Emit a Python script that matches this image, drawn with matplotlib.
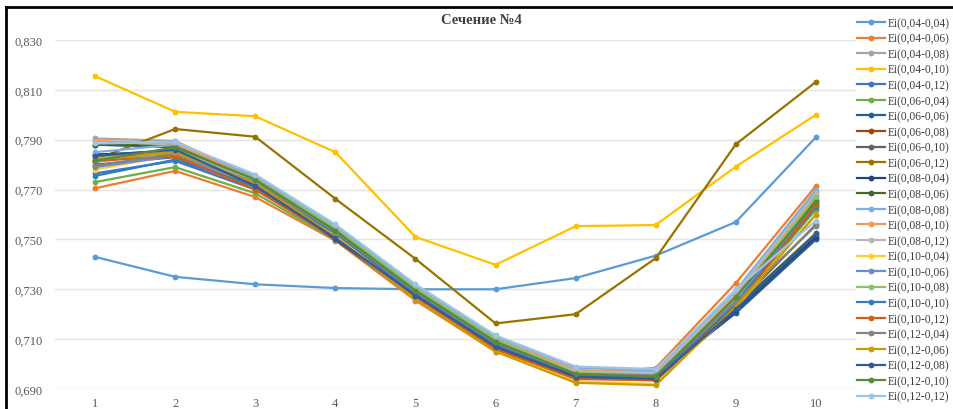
import matplotlib
matplotlib.use("Agg")
import matplotlib.pyplot as plt
from matplotlib.lines import Line2D
from matplotlib.ticker import FuncFormatter

plt.rcParams['font.family'] = ['Liberation Serif', 'DejaVu Serif']

# Section positions along the profile
points = [1, 2, 3, 4, 5, 6, 7, 8, 9, 10]

labels = [
    "Ei(0,04-0,04)", "Ei(0,04-0,06)", "Ei(0,04-0,08)", "Ei(0,04-0,10)", "Ei(0,04-0,12)",
    "Ei(0,06-0,04)", "Ei(0,06-0,06)", "Ei(0,06-0,08)", "Ei(0,06-0,10)", "Ei(0,06-0,12)",
    "Ei(0,08-0,04)", "Ei(0,08-0,06)", "Ei(0,08-0,08)", "Ei(0,08-0,10)", "Ei(0,08-0,12)",
    "Ei(0,10-0,04)", "Ei(0,10-0,06)", "Ei(0,10-0,08)", "Ei(0,10-0,10)", "Ei(0,10-0,12)",
    "Ei(0,12-0,04)", "Ei(0,12-0,06)", "Ei(0,12-0,08)", "Ei(0,12-0,10)", "Ei(0,12-0,12)",
]

colors = [
    "#5B9BD5", "#ED7D31", "#A5A5A5", "#FFC000", "#4472C4",
    "#70AD47", "#255E91", "#9E480E", "#636363", "#997300",
    "#264478", "#43682B", "#7CAFDD", "#F1975A", "#B7B7B7",
    "#FFCD33", "#698ED0", "#8CC168", "#327DC2", "#D26012",
    "#848484", "#CC9A00", "#335AA1", "#5A8A39", "#9DC3E6",
]

e_04_04 = [0.7430, 0.7350, 0.7320, 0.7305, 0.7300, 0.7300, 0.7345, 0.7435, 0.7570, 0.7910]
e_04_06 = [0.7705, 0.7775, 0.7670, 0.7495, 0.7255, 0.7050, 0.6955, 0.6985, 0.7325, 0.7715]
e_04_08 = [0.7905, 0.7895, 0.7745, 0.7540, 0.7300, 0.7100, 0.6975, 0.6970, 0.7280, 0.7690]
e_04_10 = [0.8155, 0.8012, 0.7994, 0.7850, 0.7510, 0.7398, 0.7553, 0.7558, 0.7792, 0.8000]
e_04_12 = [0.7765, 0.7815, 0.7700, 0.7510, 0.7270, 0.7070, 0.6950, 0.6945, 0.7250, 0.7640]
e_06_04 = [0.7730, 0.7790, 0.7685, 0.7500, 0.7265, 0.7060, 0.6945, 0.6940, 0.7240, 0.7620]
e_06_06 = [0.7880, 0.7870, 0.7730, 0.7530, 0.7295, 0.7090, 0.6960, 0.6950, 0.7205, 0.7500]
e_06_08 = [0.7840, 0.7845, 0.7715, 0.7520, 0.7285, 0.7085, 0.6960, 0.6955, 0.7260, 0.7660]
e_06_10 = [0.7800, 0.7830, 0.7710, 0.7515, 0.7280, 0.7075, 0.6955, 0.6950, 0.7235, 0.7560]
e_06_12 = [0.7820, 0.7943, 0.7912, 0.7663, 0.7422, 0.7163, 0.7200, 0.7425, 0.7882, 0.8132]
e_08_04 = [0.7840, 0.7855, 0.7720, 0.7500, 0.7270, 0.7065, 0.6945, 0.6935, 0.7215, 0.7510]
e_08_06 = [0.7880, 0.7875, 0.7740, 0.7540, 0.7300, 0.7095, 0.6950, 0.6945, 0.7230, 0.7525]
e_08_08 = [0.7850, 0.7880, 0.7755, 0.7555, 0.7315, 0.7110, 0.6985, 0.6975, 0.7295, 0.7700]
e_08_10 = [0.7895, 0.7885, 0.7740, 0.7535, 0.7295, 0.7100, 0.6975, 0.6965, 0.7275, 0.7680]
e_08_12 = [0.7810, 0.7850, 0.7735, 0.7530, 0.7290, 0.7090, 0.6970, 0.6965, 0.7285, 0.7685]
e_10_04 = [0.7780, 0.7840, 0.7720, 0.7515, 0.7265, 0.7055, 0.6930, 0.6920, 0.7225, 0.7600]
e_10_06 = [0.7790, 0.7835, 0.7725, 0.7525, 0.7285, 0.7080, 0.6955, 0.6950, 0.7255, 0.7650]
e_10_08 = [0.7825, 0.7860, 0.7745, 0.7545, 0.7305, 0.7100, 0.6965, 0.6955, 0.7265, 0.7670]
e_10_10 = [0.7755, 0.7820, 0.7715, 0.7525, 0.7285, 0.7080, 0.6955, 0.6945, 0.7245, 0.7630]
e_10_12 = [0.7815, 0.7835, 0.7700, 0.7505, 0.7270, 0.7060, 0.6940, 0.6935, 0.7230, 0.7640]
e_12_04 = [0.7795, 0.7845, 0.7730, 0.7530, 0.7290, 0.7085, 0.6960, 0.6955, 0.7250, 0.7555]
e_12_06 = [0.7820, 0.7850, 0.7725, 0.7510, 0.7260, 0.7050, 0.6925, 0.6915, 0.7230, 0.7600]
e_12_08 = [0.7835, 0.7860, 0.7715, 0.7505, 0.7275, 0.7070, 0.6950, 0.6940, 0.7220, 0.7520]
e_12_10 = [0.7815, 0.7870, 0.7740, 0.7535, 0.7295, 0.7090, 0.6960, 0.6950, 0.7270, 0.7650]
e_12_12 = [0.7885, 0.7890, 0.7760, 0.7560, 0.7320, 0.7115, 0.6990, 0.6980, 0.7300, 0.7575]

series = [
    e_04_04, e_04_06, e_04_08, e_04_10, e_04_12,
    e_06_04, e_06_06, e_06_08, e_06_10, e_06_12,
    e_08_04, e_08_06, e_08_08, e_08_10, e_08_12,
    e_10_04, e_10_06, e_10_08, e_10_10, e_10_12,
    e_12_04, e_12_06, e_12_08, e_12_10, e_12_12,
]

y_ticks = [0.690, 0.710, 0.730, 0.750, 0.770, 0.790, 0.810, 0.830]

fig = plt.figure(figsize=(9.54, 4.10), dpi=100)
ax = fig.add_axes([55 / 954, 20 / 410, 801 / 954, 349 / 410])

handles = []
for vals, lab, col in zip(series, labels, colors):
    h, = ax.plot(points, vals, color=col, lw=1.6, marker='o', ms=4.2,
                 markeredgewidth=0, label=lab, zorder=3)
    handles.append(h)

ax.set_xlim(0.5, 10.5)
ax.set_ylim(0.690, 0.830)
ax.set_yticks(y_ticks)
ax.set_xticks(points)
ax.yaxis.set_major_formatter(FuncFormatter(lambda v, p: f"{v:.3f}".replace('.', ',')))
ax.grid(axis='y', color='#E4E4E4', lw=1.0, zorder=0)
for s in ax.spines.values():
    s.set_visible(False)
ax.tick_params(length=0, labelsize=9, labelcolor='#595959', pad=9)
ax.tick_params(axis='x', pad=6)

fig.text(481 / 954, 1 - 20 / 410, "Сечение №4", ha='center', va='center',
         fontsize=10.5, fontweight='bold', color='#404040')

leg = fig.legend(handles=handles, loc='upper left', bbox_to_anchor=(857 / 954, 1 - 18 / 410),
                 frameon=False, fontsize=8.3, labelspacing=0.31, handlelength=2.4,
                 handletextpad=0.3, borderaxespad=0, borderpad=0)
for t in leg.get_texts():
    t.set_color('#404040')

# outer frame (top and left edges)
fig.add_artist(Line2D([6 / 954, 6 / 954], [0, 1 - 8 / 410], transform=fig.transFigure,
                      color='black', lw=2))
fig.add_artist(Line2D([6 / 954, 1], [1 - 8 / 410, 1 - 8 / 410], transform=fig.transFigure,
                      color='black', lw=2))

fig.savefig("out.png", dpi=100, facecolor='white')
